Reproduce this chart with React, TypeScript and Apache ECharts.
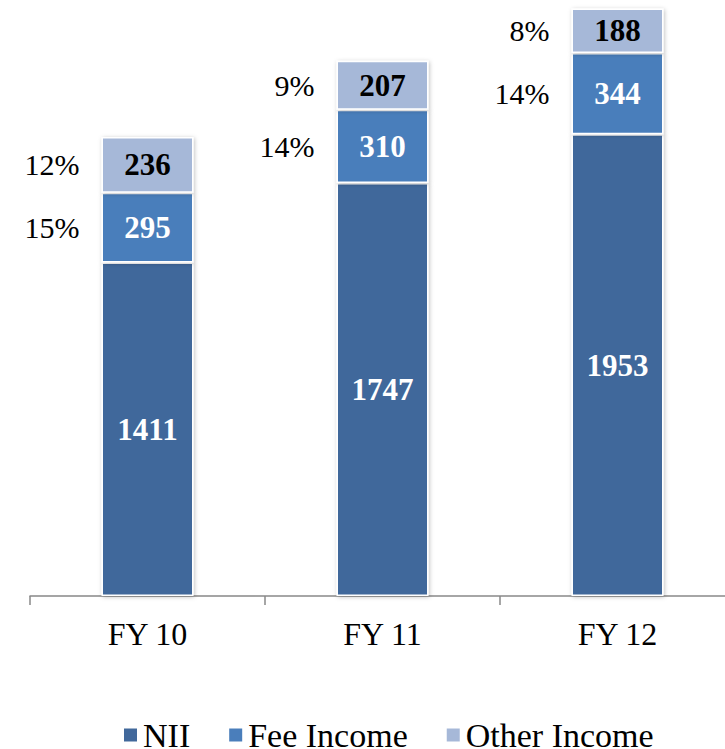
import React, { useEffect, useRef } from "react";
import * as echarts from "echarts";

const categories = ["FY 10", "FY 11", "FY 12"];
const nii = [1411, 1747, 1953];
const feeIncome = [295, 310, 344];
const otherIncome = [236, 207, 188];
const seriesNames = ["NII", "Fee Income", "Other Income"];
const colors = ["#41689B", "#4A7EBB", "#A6B8D8"];

const FONT = "Liberation Serif";

export default function App() {
  const ref = useRef<HTMLDivElement>(null);
  useEffect(() => {
    if (!ref.current) return;
    const chart = echarts.init(ref.current, undefined, { renderer: "svg" });
    const values = [nii, feeIncome, otherIncome];
    const totals = categories.map((_, i) => nii[i] + feeIncome[i] + otherIncome[i]);
    const barW = 92;

    const mainSeries = values.map((arr, k) => ({
      name: seriesNames[k],
      type: "bar",
      stack: "main",
      xAxisIndex: 0,
      barWidth: barW,
      data: arr,
      itemStyle: {
        color: colors[k],
        borderColor: "#ffffff",
        borderWidth: 1.5,
        shadowColor: "rgba(0,0,0,0.25)",
        shadowBlur: 4,
        shadowOffsetX: 1,
        shadowOffsetY: 1,
      },
      label: {
        show: true,
        position: "inside",
        fontFamily: FONT,
        fontWeight: "bold",
        fontSize: 31,
        color: k === 2 ? "#000000" : "#ffffff",
      },
    }));

    const pctSeries = [1, 2].map((k) => ({
      name: "pct" + k,
      type: "bar",
      stack: "pct",
      xAxisIndex: 1,
      barWidth: barW,
      data: values[k],
      silent: true,
      itemStyle: { color: "rgba(0,0,0,0)" },
      label: {
        show: true,
        position: "left",
        distance: 22,
        fontFamily: FONT,
        fontSize: 30,
        color: "#000000",
        formatter: (p: any) => Math.round((p.value / totals[p.dataIndex]) * 100) + "%",
      },
    }));
    const baseSeries = {
      name: "base",
      type: "bar",
      stack: "pct",
      xAxisIndex: 1,
      barWidth: barW,
      data: nii,
      silent: true,
      itemStyle: { color: "rgba(0,0,0,0)" },
      label: { show: false },
    };

    chart.setOption({
      animation: false,
      grid: { left: 30, width: 705, top: 5, bottom: 153 },
      legend: {
        data: seriesNames,
        left: 122,
        top: 718,
        padding: 0,
        itemWidth: 15,
        itemHeight: 15,
        itemGap: 37,
        icon: "rect",
        textStyle: { fontFamily: FONT, fontSize: 34, lineHeight: 28, color: "#000000" },
      },
      xAxis: [
        {
          type: "category",
          data: categories,
          axisLine: { lineStyle: { color: "#888888", width: 1.5 } },
          axisTick: { show: true, length: 9, lineStyle: { color: "#888888", width: 1.5 } },
          axisLabel: { fontFamily: FONT, fontSize: 32, color: "#000000", margin: 22 },
        },
        {
          type: "category",
          data: categories,
          show: false,
        },
      ],
      yAxis: {
        type: "value",
        min: 0,
        max: 2500,
        show: false,
        splitLine: { show: false },
      },
      series: [...mainSeries, baseSeries, ...pctSeries],
    });
    return () => chart.dispose();
  }, []);
  return (
    <div
      style={{
        position: "fixed",
        left: 0,
        top: 0,
        width: 725,
        height: 749,
        overflow: "hidden",
        background: "#ffffff",
      }}
    >
      <div ref={ref} style={{ width: 760, height: 749 }} />
    </div>
  );
}
